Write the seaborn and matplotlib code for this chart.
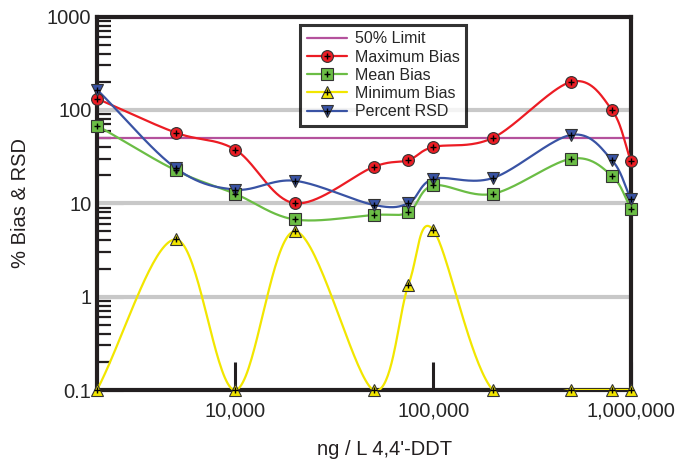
import numpy as np
import seaborn as sns
import matplotlib
matplotlib.use('Agg')
import matplotlib.pyplot as plt
from matplotlib.lines import Line2D

# данные
conc = [2000, 5000, 10000, 20000, 50000, 75000, 100000, 200000, 500000, 800000, 1000000]
max_bias = [132, 57, 37.5, 10, 24.5, 29, 40, 50, 200, 100, 28]
mean_bias = [68, 22.5, 12.6, 6.7, 7.5, 8, 15.5, 12.6, 30, 19.7, 8.7]
min_bias = [0.1, 4.1, 0.1, 5.0, 0.1, 1.34, 5.2, 0.1, 0.1, 0.1, 0.1]
rsd = [165, 23.8, 14, 17.4, 9.6, 10, 18.2, 18.6, 54, 29, 11]
limit = 50
xticks = [10000, 100000, 1000000]
xticklabels = ["10,000", "100,000", "1,000,000"]
yticks = [0.1, 1, 10, 100, 1000]
yticklabels = ["0.1", "1", "10", "100", "1000"]


def smooth(xs, ys, n=40):
    # сглаживание Catmull-Rom в лог-лог координатах
    P = np.column_stack([np.log10(xs), np.log10(ys)])
    P = np.vstack([2 * P[0] - P[1], P, 2 * P[-1] - P[-2]])
    t = np.linspace(0, 1, n)[:, None]
    out = []
    for i in range(1, len(P) - 2):
        p0, p1, p2, p3 = P[i - 1], P[i], P[i + 1], P[i + 2]
        out.append(0.5 * (2 * p1 + (p2 - p0) * t + (2 * p0 - 5 * p1 + 4 * p2 - p3) * t ** 2
                          + (3 * p1 - p0 - 3 * p2 + p3) * t ** 3))
    out = np.vstack(out)
    return 10 ** out[:, 0], 10 ** out[:, 1]


sns.set_style("white")
plt.rcParams['font.family'] = ['Liberation Sans', 'DejaVu Sans']

fig = plt.figure(figsize=(6.81, 4.62), dpi=100)
ax = fig.add_axes([97 / 681, 1 - 390 / 462, 534 / 681, 373.5 / 462])

ax.set_xscale('log')
ax.set_yscale('log')
ax.set_xlim(2000, 1000000)
ax.set_ylim(0.1, 1000)

for v in [1, 10, 100]:
    ax.axhline(v, color='#c8c8c8', lw=3, zorder=1)

ax.axhline(limit, color='#b4519c', lw=1.6, zorder=2)

series = [
    ("Maximum Bias", max_bias, '#ec1c24', 'o', 8.5),
    ("Mean Bias", mean_bias, '#6bbd45', 's', 8),
    ("Minimum Bias", min_bias, '#f2e600', '^', 9),
    ("Percent RSD", rsd, '#3953a4', 'v', 9),
]

handles = [Line2D([], [], color='#b4519c', lw=1.6)]
for name, vals, col, mk, ms in series:
    sx, sy = smooth(conc, vals)
    sns.lineplot(x=sx, y=sy, color=col, lw=1.6, sort=False, estimator=None, ax=ax, zorder=3)
    ax.plot(conc, vals, ls='none', marker=mk, ms=ms, mfc=col, mec='#333333', mew=0.8,
            clip_on=False, zorder=5)
    ax.plot(conc, vals, ls='none', marker='+', ms=5, color='black', mew=1,
            clip_on=False, zorder=6)
    handles.append((Line2D([], [], color=col, lw=1.6, marker=mk, ms=ms, mfc=col,
                           mec='#333333', mew=0.8),
                    Line2D([], [], ls='none', marker='+', ms=5, color='black', mew=1)))

labels = ["50% Limit"] + [s[0] for s in series]
leg = ax.legend(handles, labels, loc='upper left', bbox_to_anchor=(0.381, 0.977),
                borderaxespad=0, fontsize=11.5, frameon=True, fancybox=False,
                handlelength=2.5, handletextpad=0.5, labelspacing=0.2,
                borderpad=0.4)
leg.get_frame().set_edgecolor('black')
leg.get_frame().set_linewidth(2.2)
leg.set_zorder(10)

ax.set_xticks(xticks)
ax.set_xticklabels(xticklabels)
ax.xaxis.set_minor_locator(matplotlib.ticker.NullLocator())
ax.set_yticks(yticks)
ax.set_yticklabels(yticklabels)
ax.yaxis.set_minor_locator(matplotlib.ticker.LogLocator(base=10, subs=np.arange(2, 10)))
ax.yaxis.set_minor_formatter(matplotlib.ticker.NullFormatter())

ax.tick_params(axis='y', which='major', direction='in', length=19, width=2.2,
               labelsize=14.5, pad=4, left=True, right=False, color='#231f20')
ax.tick_params(axis='y', which='minor', direction='in', length=10, width=1.6,
               left=True, right=False, color='#231f20')
ax.tick_params(axis='x', which='major', direction='in', length=20, width=2.2,
               labelsize=14.5, pad=8, bottom=True, top=False, color='#231f20')

for s in ax.spines.values():
    s.set_linewidth(3)
    s.set_color('#231f20')
    s.set_visible(True)

ax.set_ylabel("% Bias & RSD", fontsize=14.5, labelpad=12, color='#231f20')
ax.set_xlabel("ng / L 4,4'-DDT", fontsize=14.5, labelpad=12, color='#231f20')
ax.xaxis.set_label_coords((385 - 97) / 534, -0.135)

plt.savefig("out.png", dpi=100)
plt.close()
